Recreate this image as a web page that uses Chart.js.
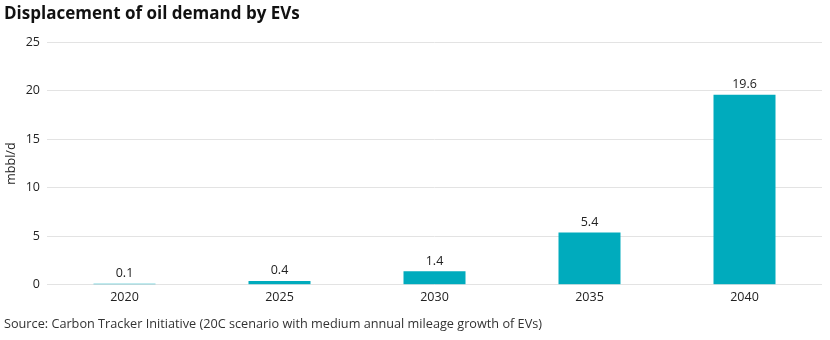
<!DOCTYPE html>
<html>
<head>
<meta charset="utf-8">
<script src="https://cdn.jsdelivr.net/npm/chart.js@4.4.1/dist/chart.umd.min.js"></script>
<style>
  html, body { margin: 0; padding: 0; background: #fff; }
  #wrap { position: relative; width: 830px; height: 340px; }
</style>
</head>
<body>
<div id="wrap"><canvas id="chart"></canvas></div>
<script>
  "use strict";
  const years = ["2020", "2025", "2030", "2035", "2040"];
  const displaced = [0.1, 0.4, 1.4, 5.4, 19.6];
  const yTicks = [0, 5, 10, 15, 20, 25];

  const FONT = "'Open Sans', sans-serif";
  const TEAL = "#00abbd";

  // value above each bar
  const barValues = {
    id: "barValues",
    afterDatasetsDraw(chart) {
      const ctx = chart.ctx;
      const meta = chart.getDatasetMeta(0);
      ctx.save();
      ctx.font = "12.5px " + FONT;
      ctx.fillStyle = "#222";
      ctx.textAlign = "center";
      ctx.textBaseline = "bottom";
      meta.data.forEach((bar, i) => {
        ctx.fillText(displaced[i].toFixed(1), bar.x, bar.y - 4);
      });
      ctx.restore();
    },
  };

  new Chart(document.getElementById("chart"), {
    type: "bar",
    data: {
      labels: years,
      datasets: [
        {
          data: displaced,
          backgroundColor: TEAL,
          borderWidth: 0,
          barPercentage: 0.4,
          categoryPercentage: 1,
        },
      ],
    },
    options: {
      responsive: true,
      maintainAspectRatio: false,
      animation: false,
      layout: { padding: { left: 4, right: 8, top: 0, bottom: 0 } },
      plugins: {
        legend: { display: false },
        tooltip: { enabled: false },
        title: {
          display: true,
          text: "Displacement of oil demand by EVs",
          align: "start",
          color: "#111",
          font: { family: FONT, size: 17, weight: "bold" },
          padding: { top: 4, bottom: 18 },
        },
        subtitle: {
          display: true,
          position: "bottom",
          text: "Source: Carbon Tracker Initiative (20C scenario with medium annual mileage growth of EVs)",
          align: "start",
          color: "#333",
          font: { family: FONT, size: 12.7 },
          padding: { top: 8, bottom: 8 },
        },
      },
      scales: {
        x: {
          grid: { display: false, drawTicks: false },
          border: { display: false },
          ticks: { color: "#222", font: { family: FONT, size: 12.5 }, padding: 5 },
          afterFit(axis) {
            axis.height = 24;
          },
        },
        y: {
          min: 0,
          max: 25,
          afterBuildTicks(axis) {
            axis.ticks = yTicks.map((v) => ({ value: v }));
          },
          afterFit(axis) {
            axis.width = 43;
          },
          grid: { color: "#e3e3e3", lineWidth: 1, drawTicks: false },
          border: { display: false },
          ticks: { color: "#222", font: { family: FONT, size: 12.5 }, padding: 7 },
          title: {
            display: true,
            text: "mbbl/d",
            color: "#222",
            font: { family: FONT, size: 12.5 },
            padding: { top: 0, bottom: 4 },
          },
        },
      },
    },
    plugins: [barValues],
  });
</script>
</body>
</html>
